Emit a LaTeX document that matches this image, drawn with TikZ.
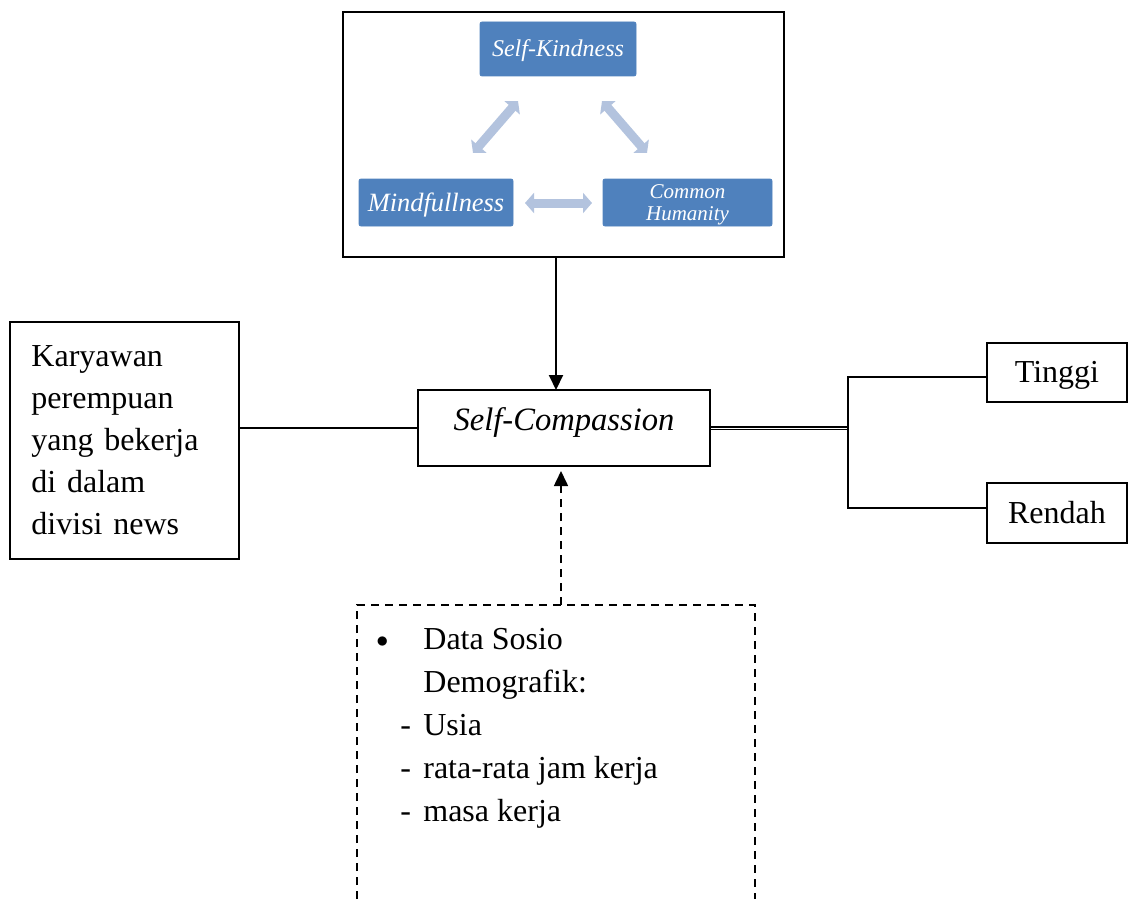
\documentclass[tikz,border=0pt]{standalone}
\usepackage{fontspec}
\setmainfont{Liberation Serif}
\usetikzlibrary{arrows.meta}
\definecolor{skblue}{HTML}{4F81BD}
\definecolor{skarrow}{HTML}{B3C3DE}
\begin{document}
\begin{tikzpicture}[x=0.5pt,y=-0.5pt,
  bluebox/.style={fill=skblue,draw=skblue,rounded corners=1pt,text=white,inner sep=0pt,font=\itshape,align=center},
  blk/.style={draw=black,line width=1pt,inner sep=0pt},
  lightarrow/.style={draw=skarrow,line width=4.5pt,{Triangle[width=10pt,length=4.5pt]}-{Triangle[width=10pt,length=4.5pt]}},
  conn/.style={line width=0.8pt},
  bigtip/.style={-{Triangle[width=7pt,length=7.5pt]}},
  dashbox/.style={line width=0.8pt,dash pattern=on 4pt off 3pt}]
\useasboundingbox (0,0) rectangle (1128,899);

% top box with blue nodes
\node[blk,minimum width=220.5pt,minimum height=122.5pt] (top) at (563.5,134.5) {};
\node[bluebox,minimum width=78pt,minimum height=27pt,text height=10pt,text depth=2pt,font=\itshape\fontsize{12}{14}\selectfont] (sk) at (558,49) {Self-Kindness};
\node[bluebox,minimum width=77pt,minimum height=23.5pt,text height=10.5pt,text depth=2pt,font=\itshape\fontsize{13.2}{15}\selectfont] (mf) at (436,202.5) {Mindfullness};
\node[bluebox,minimum width=84.5pt,minimum height=23.5pt,font=\itshape\fontsize{10.5}{11}\selectfont] (ch) at (687.5,202.5) {\rule{0pt}{9.3pt}Common\\Humanity};

\coordinate (a1) at (473,153); \coordinate (a2) at (518,101);
\coordinate (b1) at (602,101); \coordinate (b2) at (647,153);
\coordinate (c1) at (525,203); \coordinate (c2) at (592,203);
\draw[lightarrow] (a1) -- (a2);
\draw[lightarrow] (b1) -- (b2);
\draw[lightarrow] (c1) -- (c2);

% main nodes
\node[blk,minimum width=146pt,minimum height=38pt,text height=11.5pt,text depth=9.5pt,font=\itshape\fontsize{16.3}{19}\selectfont] (sc) at (564,428) {Self-Compassion};
\node[blk,minimum width=114.5pt,minimum height=118.5pt,text width=93pt,align=left,inner xsep=10.75pt,font=\fontsize{16}{21}\selectfont] (kar) at (124.5,440.5) {Karyawan\\perempuan\\yang bekerja\\di dalam\\divisi news};
\node[blk,minimum width=70pt,minimum height=29.5pt,text height=11.5pt,text depth=2pt,font=\fontsize{16}{19}\selectfont] (ti) at (1057,372.5) {Tinggi};
\node[blk,minimum width=70pt,minimum height=30pt,text height=12pt,text depth=2pt,font=\fontsize{16}{19}\selectfont] (re) at (1057,513) {Rendah};

% top arrow
\coordinate (ta) at (556,390);
\draw[line width=1pt,bigtip] (ta |- top.south) -- (ta);

% left connector
\draw[conn] (sc.west) -- (sc.west -| kar.east);

% right connectors
\coordinate (br) at (848,428);
\draw[line width=0.6pt,double distance=0.5pt] (sc.east) -- (br);
\draw[conn] (br) -- (848,377) -- ([yshift=-2.25pt]ti.west);
\draw[conn] (br) -- (848,508) -- ([yshift=2.5pt]re.west);

% dashed box
\coordinate (db) at (561,605);
\draw[dashbox] (357,899) -- (357,605) -- (755,605) -- (755,899);
\node[anchor=north west,inner sep=0pt,align=left,font=\fontsize{16}{21.5}\selectfont] (demo) at (376,628)
 {\makebox[23.5pt][l]{\raisebox{1pt}{\fontsize{12}{12}\selectfont$\bullet$}}Data Sosio\\
  \hspace*{23.5pt}Demografik:\\
  \hspace*{12pt}\makebox[11.5pt][l]{-}Usia\\
  \hspace*{12pt}\makebox[11.5pt][l]{-}rata-rata jam kerja\\
  \hspace*{12pt}\makebox[11.5pt][l]{-}masa kerja};
\draw[dashbox,bigtip,shorten >=2pt] (db) -- (db |- sc.south);
\end{tikzpicture}
\end{document}
